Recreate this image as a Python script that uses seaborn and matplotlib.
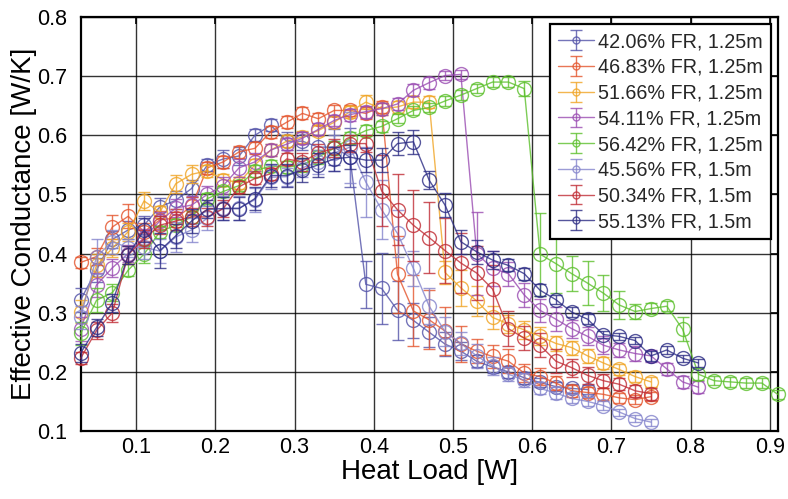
import matplotlib
matplotlib.use("Agg")
import matplotlib.pyplot as plt
import pandas as pd
import seaborn as sns
from matplotlib.lines import Line2D
from matplotlib.legend_handler import HandlerTuple
from matplotlib.ticker import FormatStrFormatter

heat_load = [0.03, 0.05, 0.07, 0.09, 0.11, 0.13, 0.15, 0.17, 0.19, 0.21,
             0.23, 0.25, 0.27, 0.29, 0.31, 0.33, 0.35, 0.37, 0.39, 0.41,
             0.43, 0.45, 0.47, 0.49, 0.51, 0.53, 0.55, 0.57, 0.59, 0.61,
             0.63, 0.65, 0.67, 0.69, 0.71, 0.73, 0.75, 0.77, 0.79, 0.81,
             0.83, 0.85, 0.87, 0.89, 0.91]

labels = ["42.06% FR, 1.25m", "46.83% FR, 1.25m", "51.66% FR, 1.25m",
          "54.11% FR, 1.25m", "56.42% FR, 1.25m", "45.56% FR, 1.5m",
          "50.34% FR, 1.5m", "55.13% FR, 1.5m"]
colors = ["#5252a8", "#e4542c", "#f0a424", "#9a4cb2", "#5cc02c",
          "#8484cc", "#c02c34", "#2c2c84"]

fr42_125 = [0.322, 0.372, 0.424, 0.440, 0.448, 0.479, 0.490, 0.510, 0.550, 0.560,
            0.565, 0.600, 0.617, 0.590, 0.590, 0.580, 0.580, 0.563, 0.348, 0.341,
            0.304, 0.287, 0.267, 0.247, 0.235, 0.218, 0.208, 0.200, 0.190, 0.182,
            0.175, 0.172, 0.170]
fr42_125_err = [0.02, 0.02, 0.015, 0.015, 0.015, 0.015, 0.015, 0.015, 0.01, 0.015,
                0.015, 0.01, 0.01, 0.015, 0.015, 0.02, 0.03, 0.05, 0.04, 0.06,
                0.05, 0.03, 0.025, 0.02, 0.015, 0.01, 0.01, 0.01, 0.01, 0.008,
                0.008, 0.008, 0.008]

fr47_125 = [0.385, 0.395, 0.445, 0.463, 0.437, 0.457, 0.460, 0.480, 0.545, 0.555,
            0.572, 0.578, 0.606, 0.622, 0.637, 0.628, 0.642, 0.642, 0.637, 0.648,
            0.365, 0.303, 0.288, 0.269, 0.247, 0.235, 0.226, 0.218, 0.198, 0.192,
            0.181, 0.168, 0.165, 0.162, 0.156, 0.153, 0.158]
fr47_125_err = [0.01, 0.015, 0.02, 0.02, 0.015, 0.015, 0.015, 0.015, 0.01, 0.01,
                0.01, 0.01, 0.01, 0.01, 0.01, 0.01, 0.01, 0.01, 0.01, 0.01,
                0.065, 0.06, 0.05, 0.04, 0.03, 0.02, 0.02, 0.02, 0.015, 0.015,
                0.012, 0.01, 0.01, 0.01, 0.008, 0.008, 0.008]

fr52_125 = [0.302, 0.380, 0.409, 0.437, 0.489, 0.470, 0.518, 0.534, 0.540, 0.525,
            0.520, 0.550, 0.575, 0.590, 0.597, 0.608, 0.622, 0.640, 0.656, 0.645,
            0.648, 0.656, 0.656, 0.368, 0.342, 0.320, 0.292, 0.281, 0.271, 0.260,
            0.248, 0.241, 0.227, 0.215, 0.204, 0.192, 0.183]
fr52_125_err = [0.02, 0.02, 0.015, 0.015, 0.015, 0.01, 0.015, 0.015, 0.01, 0.01,
                0.01, 0.01, 0.01, 0.01, 0.01, 0.01, 0.01, 0.01, 0.012, 0.01,
                0.01, 0.01, 0.01, 0.02, 0.03, 0.025, 0.02, 0.015, 0.015, 0.015,
                0.012, 0.012, 0.012, 0.01, 0.01, 0.01, 0.008]

fr54_125 = [0.273, 0.347, 0.376, 0.400, 0.427, 0.455, 0.477, 0.482, 0.500, 0.515,
            0.545, 0.555, 0.575, 0.585, 0.595, 0.610, 0.625, 0.635, 0.640, 0.645,
            0.653, 0.676, 0.689, 0.701, 0.703, 0.400, 0.375, 0.366, 0.330, 0.304,
            0.289, 0.273, 0.260, 0.245, 0.237, 0.231, 0.227, 0.205, 0.183, 0.174]
fr54_125_err = [0.02, 0.02, 0.015, 0.015, 0.015, 0.015, 0.015, 0.015, 0.015, 0.015,
                0.015, 0.015, 0.01, 0.01, 0.01, 0.01, 0.01, 0.01, 0.01, 0.01,
                0.01, 0.01, 0.01, 0.008, 0.008, 0.07, 0.03, 0.02, 0.02, 0.02,
                0.02, 0.015, 0.015, 0.015, 0.012, 0.012, 0.01, 0.01, 0.01, 0.01]

fr56_125 = [0.265, 0.321, 0.334, 0.372, 0.399, 0.437, 0.448, 0.462, 0.493, 0.505,
            0.515, 0.540, 0.548, 0.546, 0.550, 0.563, 0.578, 0.595, 0.608, 0.615,
            0.628, 0.642, 0.647, 0.658, 0.668, 0.679, 0.690, 0.690, 0.679, 0.399,
            0.383, 0.366, 0.350, 0.333, 0.313, 0.302, 0.307, 0.311, 0.272, 0.196,
            0.185, 0.183, 0.181, 0.181, 0.162]
fr56_125_err = [0.02, 0.02, 0.015, 0.01, 0.015, 0.01, 0.01, 0.01, 0.01, 0.01,
                0.01, 0.01, 0.01, 0.01, 0.012, 0.012, 0.012, 0.01, 0.01, 0.01,
                0.008, 0.008, 0.008, 0.008, 0.008, 0.008, 0.008, 0.008, 0.012, 0.07,
                0.05, 0.03, 0.037, 0.03, 0.024, 0.012, 0.01, 0.008, 0.02, 0.01,
                0.008, 0.008, 0.008, 0.008, 0.008]

fr46_150 = [0.292, 0.395, 0.420, 0.410, 0.411, 0.404, 0.428, 0.440, 0.460, 0.477,
            0.477, 0.491, 0.529, 0.530, 0.545, 0.555, 0.570, 0.580, 0.521, 0.474,
            0.434, 0.375, 0.311, 0.268, 0.248, 0.227, 0.210, 0.196, 0.186, 0.172,
            0.164, 0.155, 0.150, 0.143, 0.132, 0.121, 0.115]
fr46_150_err = [0.02, 0.03, 0.02, 0.015, 0.02, 0.02, 0.025, 0.02, 0.02, 0.02,
                0.02, 0.02, 0.02, 0.015, 0.015, 0.02, 0.03, 0.06, 0.06, 0.05,
                0.04, 0.03, 0.03, 0.025, 0.02, 0.02, 0.015, 0.012, 0.012, 0.01,
                0.01, 0.008, 0.008, 0.008, 0.006, 0.006, 0.006]

fr50_150 = [0.223, 0.270, 0.300, 0.398, 0.425, 0.448, 0.455, 0.462, 0.462, 0.476,
            0.513, 0.527, 0.535, 0.560, 0.555, 0.570, 0.578, 0.586, 0.586, 0.506,
            0.474, 0.448, 0.427, 0.405, 0.384, 0.367, 0.340, 0.273, 0.257, 0.245,
            0.218, 0.207, 0.194, 0.185, 0.179, 0.168, 0.163]
fr50_150_err = [0.01, 0.015, 0.015, 0.015, 0.015, 0.015, 0.015, 0.015, 0.015, 0.015,
                0.01, 0.01, 0.01, 0.01, 0.015, 0.015, 0.015, 0.015, 0.015, 0.06,
                0.06, 0.06, 0.06, 0.055, 0.05, 0.045, 0.04, 0.03, 0.02, 0.02,
                0.02, 0.015, 0.015, 0.012, 0.01, 0.01, 0.01]

fr55_150 = [0.232, 0.275, 0.317, 0.397, 0.440, 0.405, 0.430, 0.455, 0.475, 0.476,
            0.476, 0.493, 0.532, 0.532, 0.541, 0.550, 0.560, 0.563, 0.558, 0.558,
            0.586, 0.589, 0.524, 0.482, 0.420, 0.403, 0.389, 0.380, 0.366, 0.338,
            0.322, 0.301, 0.289, 0.263, 0.260, 0.253, 0.227, 0.237, 0.223, 0.215]
fr55_150_err = [0.015, 0.015, 0.015, 0.015, 0.02, 0.03, 0.02, 0.02, 0.015, 0.02,
                0.02, 0.02, 0.02, 0.02, 0.02, 0.02, 0.02, 0.02, 0.02, 0.02,
                0.02, 0.02, 0.015, 0.02, 0.02, 0.02, 0.015, 0.01, 0.01, 0.01,
                0.008, 0.008, 0.008, 0.006, 0.006, 0.006, 0.008, 0.006, 0.006, 0.006]

series = [(fr42_125, fr42_125_err), (fr47_125, fr47_125_err), (fr52_125, fr52_125_err),
          (fr54_125, fr54_125_err), (fr56_125, fr56_125_err), (fr46_150, fr46_150_err),
          (fr50_150, fr50_150_err), (fr55_150, fr55_150_err)]

sns.set_theme(style="white")
plt.rcParams['font.family'] = ['Liberation Sans', 'DejaVu Sans']

fig = plt.figure(figsize=(7.88, 4.99), dpi=100)
ax = fig.add_axes([0.1024, 0.1363, 0.8845, 0.8296])

handles = []
for (vals, errs), col, lab in zip(series, colors, labels):
    n = len(vals)
    df = pd.DataFrame({"Heat Load": heat_load[:n], "G": vals, "err": errs})
    sns.lineplot(data=df, x="Heat Load", y="G", ax=ax, color=col, lw=1.0,
                 marker="o", markersize=10, markerfacecolor="none",
                 markeredgecolor=col, markeredgewidth=1.0, alpha=0.8,
                 legend=False, clip_on=False, zorder=3)
    eb = ax.errorbar(df["Heat Load"], df["G"], yerr=df["err"], fmt="none",
                     ecolor=col, elinewidth=1.0, capsize=4, capthick=1.0,
                     alpha=0.8, zorder=3, clip_on=False)
    proxy = Line2D([], [], color=col, lw=1.0, marker="o", markersize=5,
                   markerfacecolor="none", markeredgecolor=col, alpha=0.8)
    handles.append((proxy, eb))

ax.set_xlim(0.03, 0.91)
ax.set_ylim(0.1, 0.8)
ax.set_xticks([0.1, 0.2, 0.3, 0.4, 0.5, 0.6, 0.7, 0.8, 0.9])
ax.set_yticks([0.1, 0.2, 0.3, 0.4, 0.5, 0.6, 0.7, 0.8])
ax.xaxis.set_major_formatter(FormatStrFormatter("%.1f"))
ax.yaxis.set_major_formatter(FormatStrFormatter("%.1f"))
ax.grid(True, color="black", lw=1.0, alpha=0.8)
ax.set_axisbelow(True)
ax.tick_params(direction="in", length=5, width=1.2, top=True, right=True,
               labelsize=15.5, colors="black")
ax.tick_params(axis="x", pad=4)
ax.tick_params(axis="y", pad=10)
for sp in ax.spines.values():
    sp.set_color("black")
    sp.set_linewidth(1.6)
    sp.set_visible(True)

ax.set_xlabel("Heat Load [W]", fontsize=20, labelpad=1, color="black")
ax.set_ylabel("Effective Conductance [W/K]", fontsize=20, labelpad=0, color="black")

leg = ax.legend(handles, labels, handler_map={tuple: HandlerTuple(ndivide=1)},
                loc="upper right", fontsize=14.2, frameon=True, fancybox=False,
                edgecolor="black", framealpha=1, borderpad=0.42, labelspacing=0.34,
                handlelength=1.8, handletextpad=0.2, borderaxespad=0.35)
leg.get_frame().set_linewidth(1.6)
leg.set_zorder(10)

fig.savefig("out.png", dpi=100)
